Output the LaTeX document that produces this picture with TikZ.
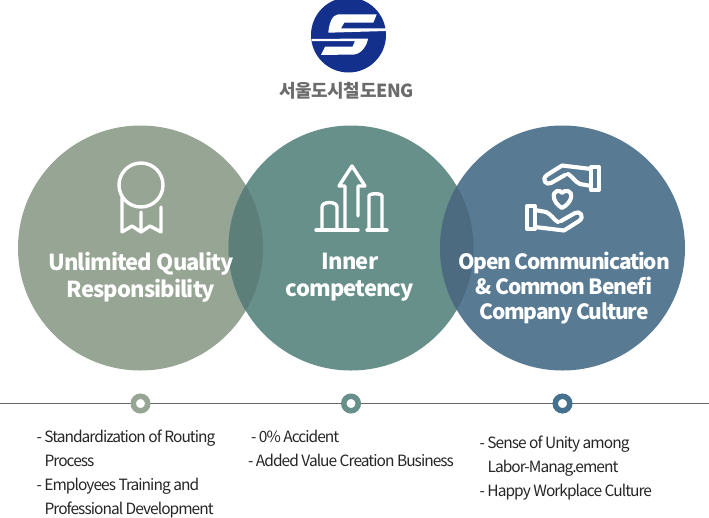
\documentclass[tikz,border=0pt]{standalone}
\usepackage{fontspec}
\setmainfont{Noto Sans CJK KR}
\newfontfamily\titlefont[LetterSpace=-4]{Noto Sans CJK KR}
\newfontfamily\culturefont[LetterSpace=-5.8]{Noto Sans CJK KR}
\newfontfamily\brandfont[LetterSpace=-2]{Noto Sans CJK KR}
\newfontfamily\listfont[LetterSpace=-6.2]{Noto Sans CJK KR}
\usetikzlibrary{calc}
\definecolor{sage}{HTML}{97A594}
\definecolor{teal}{HTML}{68908B}
\definecolor{slate}{HTML}{587A92}
\definecolor{navy}{HTML}{12308C}
\definecolor{dotblue}{HTML}{45708E}
\tikzset{
  bubble/.style={circle,inner sep=0pt,minimum size=245pt},
  bubbletext/.style={text=white,align=center,font=\titlefont\bfseries\fontsize{22}{27}\selectfont},
  icon/.style={draw=white,line width=3.4pt,line cap=round,line join=round},
  handicon/.style={icon,line width=4.1pt},
  ring/.style={circle,inner sep=0pt,minimum size=14.5pt,fill=white,line width=5.5pt},
  itemtext/.style={text=black!85,align=left,anchor=north west,font=\listfont\fontsize{15.5}{24}\selectfont},
}
\begin{document}
\begin{tikzpicture}[x=1pt,y=-1pt]
  \useasboundingbox (0,0) rectangle (709,517);
  % circles
  \node[bubble,fill=sage] (quality) at (140.5,248) {};
  \node[bubble,fill=teal] (inner) at (351,248) {};
  \node[bubble,fill=slate] (culture) at (562.5,248) {};
  \begin{scope}
    \clip (140.5,248) circle (122.5);
    \fill[fill=teal!88!black] (351,248) circle (122.5);
  \end{scope}
  \begin{scope}
    \clip (351,248) circle (122.5);
    \fill[fill=slate!88!black] (562.5,248) circle (122.5);
  \end{scope}

  % logo
  \node[circle,inner sep=0pt,minimum size=75pt,fill=navy] (logo) at (348.5,35) {};
  \fill[white] (376.7,14.3) -- (338.3,14.3) .. controls (332,14.5) and (329,24) .. (328.3,32.7) -- (386,31) -- (386,28.3) -- (341,28.3) -- (344.3,22.7) -- (373.3,22.7) -- cycle;
  \fill[white] (311.7,39) -- (368,38.5) .. controls (367,46) and (361,54) .. (354,54.5) -- (321,55) -- (325,46.7) -- (352.5,46.7) -- (355,41) -- (311.7,41) -- cycle;
  \node[text=black!58,font=\brandfont\bfseries\fontsize{18}{20}\selectfont] (brand) at (346.5,90.5) {서울도시철도ENG};

  % icons
  \draw[icon] (141,185) circle (22);
  \draw[icon] (122,197) -- (122,232) -- (132,226) -- (141,232) -- (141,212);
  \draw[icon] (141,232) -- (150,226) -- (161,232) -- (161,207);

  \draw[icon] (316,230) -- (358,230) (367,230) -- (387,230);
  \draw[icon] (322,230) -- (322,207) .. controls (322,201) and (337,201) .. (337,207) -- (337,230);
  \draw[icon] (369,230) -- (369,196) .. controls (369,193) and (382,193) .. (382,196) -- (382,230);
  \draw[icon] (345,228) -- (345,186) -- (339,186) -- (352,166) -- (365,186) -- (358,186) -- (358,216);

  \foreach \a in {0,180}{
    \begin{scope}[rotate around={\a:(563,198)}]
      \draw[handicon] (591,167) rectangle (599,190);
      \draw[handicon] (591,169) -- (562,165.5) -- (547,175) .. controls (541,179) and (546,186) .. (551,183) -- (565,175);
      \draw[handicon] (568,174) .. controls (572,176) and (575,182) .. (580,184) -- (591,186);
    \end{scope}
  }
  \draw[handicon] (562,208) .. controls (552,202) and (552,192) .. (557,191) .. controls (560,190) and (561,192) .. (562,193) .. controls (563,192) and (565,190) .. (568,191) .. controls (573,192) and (573,202) .. (562,208) -- cycle;

  % labels
  \node[bubbletext] (qualitytext) at (141,277) {Unlimited Quality\\Responsibility};
  \node[bubbletext] (innertext) at (350,277) {Inner\\competency};
  \node[bubbletext,font=\culturefont\bfseries\fontsize{21}{25}\selectfont] (culturetext) at (564,288) {Open Communication\\\&\ Common Benefi\\Company Culture};

  % timeline
  \coordinate (linestart) at (0,403.5);
  \coordinate (lineend) at (709,403.5);
  \draw[black!60,line width=0.8pt] (linestart) -- (lineend);
  \node[ring,draw=sage] (dotquality) at (140.5,403.5) {};
  \node[ring,draw=teal] (dotinner) at (351,403.5) {};
  \node[ring,draw=dotblue] (dotculture) at (562.5,403.5) {};

  \node[itemtext] (itemsquality) at (33,426.5) {- Standardization of Routing\\\hspace{8pt}Process\\- Employees Training and\\\hspace{8pt}Professional Development};
  \node[itemtext] (itemsinner) at (244.5,426.5) {\hspace{3pt}- 0\% Accident\\- Added Value Creation Business};
  \node[itemtext] (itemsculture) at (476,432.5) {- Sense of Unity among\\\hspace{8pt}Labor-Manag.ement\\- Happy Workplace Culture};
\end{tikzpicture}
\end{document}
